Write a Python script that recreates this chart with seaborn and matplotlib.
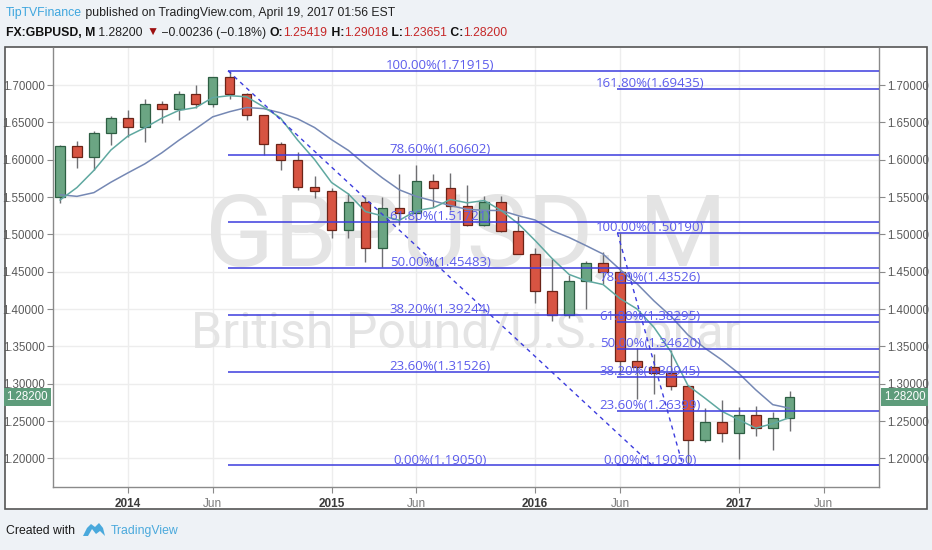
import numpy as np
import pandas as pd
import matplotlib.pyplot as plt
from matplotlib.patches import Rectangle, Polygon
from matplotlib.transforms import blended_transform_factory
import seaborn as sns

# monthly GBPUSD candles, Sep 2013 .. Apr 2017
months = pd.period_range("2013-09", "2017-04", freq="M")
opens = [1.5500, 1.6190, 1.6035, 1.6360, 1.6560, 1.6435, 1.6750, 1.6675, 1.6880, 1.6750,
         1.7105, 1.6880, 1.6595, 1.6210, 1.5995, 1.5640, 1.5575, 1.5055, 1.5435, 1.4820,
         1.5350, 1.5280, 1.5710, 1.5615, 1.5380, 1.5125, 1.5435, 1.5040, 1.4740, 1.4245,
         1.3920, 1.4370, 1.4615, 1.4490, 1.3305, 1.3225, 1.3140, 1.2975, 1.2240, 1.2480,
         1.2340, 1.2576, 1.2410, 1.25419]
highs = [1.6200, 1.6245, 1.6385, 1.6580, 1.6660, 1.6810, 1.6780, 1.6921, 1.7006, 1.7109,
         1.7192, 1.6892, 1.6600, 1.6240, 1.6098, 1.5786, 1.5620, 1.5552, 1.5497, 1.5498,
         1.5815, 1.5930, 1.5803, 1.5819, 1.5659, 1.5508, 1.5507, 1.5242, 1.4815, 1.4668,
         1.4459, 1.4639, 1.4770, 1.5019, 1.3480, 1.3400, 1.3445, 1.2985, 1.2675, 1.2775,
         1.2690, 1.2706, 1.2615, 1.29018]
lows = [1.5425, 1.5885, 1.5860, 1.6195, 1.6305, 1.6240, 1.6487, 1.6536, 1.6695, 1.6710,
        1.6810, 1.6527, 1.6060, 1.5863, 1.5590, 1.5490, 1.4950, 1.4952, 1.4633, 1.4565,
        1.5120, 1.5170, 1.5370, 1.5330, 1.5107, 1.5107, 1.5027, 1.4737, 1.4080, 1.3836,
        1.3885, 1.4006, 1.4331, 1.3118, 1.2795, 1.2866, 1.2915, 1.1905, 1.2215, 1.2215,
        1.1986, 1.2300, 1.2108, 1.23651]
closes = opens[1:] + [1.28200]

# moving averages as shown on the chart (5 and 10 periods)
ma_fast = [1.5459, 1.5627, 1.5857, 1.6129, 1.6316, 1.6428, 1.6556, 1.6660, 1.6698, 1.6832,
           1.6858, 1.6842, 1.6708, 1.6557, 1.6264, 1.6003, 1.5695, 1.5540, 1.5305, 1.5247,
           1.5188, 1.5319, 1.5355, 1.5467, 1.5422, 1.5453, 1.5319, 1.5144, 1.4917, 1.4676,
           1.4463, 1.4378, 1.4328, 1.4140, 1.4001, 1.3755, 1.3427, 1.2977, 1.2807, 1.2630,
           1.2517, 1.2404, 1.2465, 1.2547]
ma_slow = [1.5531, 1.5509, 1.5559, 1.5698, 1.5823, 1.5944, 1.6092, 1.6259, 1.6414, 1.6574,
           1.6643, 1.6699, 1.6684, 1.6628, 1.6548, 1.6431, 1.6269, 1.6124, 1.5931, 1.5756,
           1.5596, 1.5507, 1.5448, 1.5386, 1.5335, 1.5321, 1.5319, 1.5250, 1.5192, 1.5049,
           1.4958, 1.4849, 1.4736, 1.4529, 1.4339, 1.4109, 1.3903, 1.3653, 1.3476, 1.3318,
           1.3138, 1.2917, 1.2719, 1.2671]

# fibonacci retracements
fib1_labels = ["100.00%", "78.60%", "61.80%", "50.00%", "38.20%", "23.60%", "0.00%"]
fib1_levels = [1.71915, 1.60602, 1.51721, 1.45483, 1.39244, 1.31526, 1.19050]
fib2_labels = ["161.80%", "100.00%", "78.60%", "61.80%", "50.00%", "38.20%", "23.60%", "0.00%"]
fib2_levels = [1.69435, 1.50190, 1.43526, 1.38295, 1.34620, 1.30945, 1.26399, 1.19050]
fib1_span = [9.9, 34.9]
fib2_span = [32.85, 36.7]

price_ticks = [1.20, 1.25, 1.30, 1.35, 1.40, 1.45, 1.50, 1.55, 1.60, 1.65, 1.70]
last_price = 1.28200

UP, DOWN = "#6ba583", "#d75442"
UP_EDGE, DOWN_EDGE = "#2d5e43", "#6b2418"
FIB = "#3c3cde"
FIB_TXT = "#5c5cec"

sns.set_style("white")
plt.rcParams["font.family"] = ["Liberation Sans", "DejaVu Sans"]
NARROW = ["Liberation Sans", "DejaVu Sans"]

fig = plt.figure(figsize=(9.32, 5.5), dpi=100)
fig.patch.set_facecolor("#eef2f6")

# background layer in pixel coordinates
bg = fig.add_axes([0, 0, 1, 1], zorder=0)
bg.set_xlim(0, 932)
bg.set_ylim(550, 0)
bg.axis("off")
bg.add_patch(Rectangle((5, 47), 922, 462, facecolor="white", edgecolor="#555555", lw=1.2))

ax = fig.add_axes([53 / 932, 1 - 487 / 550, 826 / 932, 439 / 550], zorder=1)
ax.set_facecolor("white")

idx = np.arange(len(months))
o = np.array(opens)
c = np.array(closes)
up = c >= o
body_col = np.where(up, UP, DOWN)
edge_col = np.where(up, UP_EDGE, DOWN_EDGE)

# watermark
ax.text(0.5, 0.5034, "GBPUSD, M", transform=ax.transAxes, ha="center", va="baseline",
        fontsize=73, family="Roboto", color="#e4e4e4", zorder=1)
ax.text(0.5, 0.3189, "British Pound/U.S. Dollar", transform=ax.transAxes, ha="center",
        va="baseline", fontsize=36, family="Roboto", color="#e4e4e4", zorder=1)

# candles
ax.vlines(idx, lows, highs, color="#6f6f72", lw=1, zorder=2)
heights = np.where(np.abs(c - o) < 0.0015, np.sign(c - o + 1e-9) * 0.0015, c - o)
ax.bar(idx, heights, bottom=o, width=0.56, color=body_col, edgecolor=edge_col,
       linewidth=0.9, zorder=3)

# moving averages
ma_df = pd.DataFrame({"i": idx, "fast": ma_fast, "slow": ma_slow})
sns.lineplot(data=ma_df, x="i", y="slow", color="#7588b4", lw=1.1, ax=ax, zorder=4)
sns.lineplot(data=ma_df, x="i", y="fast", color="#5fa8a0", lw=1.1, ax=ax, zorder=4)

XMAX = 48.26
# fib lines and labels
ax.hlines(fib1_levels, fib1_span[0], XMAX, color=FIB, lw=1.1, zorder=5)
ax.hlines(fib2_levels, fib2_span[0], XMAX, color=FIB, lw=1.1, zorder=5)
ax.plot(fib1_span, [fib1_levels[0], fib1_levels[-1]], ls=(0, (3, 3)), color=FIB, lw=1, zorder=5)
ax.plot(fib2_span, [fib2_levels[1], fib2_levels[-1]], ls=(0, (3, 3)), color=FIB, lw=1, zorder=5)
for lab, lev in zip(fib1_labels, fib1_levels):
    ax.annotate(f"{lab}({lev:.5f})", xy=(sum(fib1_span) / 2, lev), xytext=(0, 1.3),
                textcoords="offset points", ha="center", va="baseline", fontsize=9.5,
                family="Open Sans", color=FIB_TXT, zorder=6)
for lab, lev in zip(fib2_labels, fib2_levels):
    ax.annotate(f"{lab}({lev:.5f})", xy=(sum(fib2_span) / 2, lev), xytext=(0, 1.3),
                textcoords="offset points", ha="center", va="baseline", fontsize=9.5,
                family="Open Sans", color=FIB_TXT, zorder=6)

ax.set_xlim(-0.41, XMAX)
ax.set_ylim(1.1616, 1.7496)
ax.set_xlabel("")
ax.set_ylabel("")

# axes styling
for side in ["left", "right", "bottom"]:
    ax.spines[side].set_color("#8a8a8a")
    ax.spines[side].set_linewidth(1)
ax.spines["top"].set_visible(False)

ax.set_yticks(price_ticks)
ax.set_yticklabels([f"{p:.5f}" for p in price_ticks])
ax.tick_params(axis="y", left=True, right=True, labelleft=True, labelright=True,
               length=4, width=0.8, color="#8a8a8a", labelcolor="#5a5a5a", labelsize=8.3, pad=2)

xt_pos, xt_lab = [], []
axis_months = pd.period_range("2013-09", "2017-09", freq="M")
for k, m in enumerate(axis_months):
    if m.month == 1:
        xt_pos.append(k)
        xt_lab.append(str(m.year))
    elif m.month == 6:
        xt_pos.append(k)
        xt_lab.append("Jun")
ax.set_xticks(xt_pos)
ax.set_xticklabels(xt_lab)
ax.tick_params(axis="x", bottom=True, length=4, width=0.8, color="#8a8a8a", pad=4)
for t in ax.get_xticklabels():
    t.set_family(NARROW)
    t.set_fontsize(8.5)
    if t.get_text() == "Jun":
        t.set_color("#7a7a7a")
    else:
        t.set_color("#3a3a3a")
        t.set_fontweight("bold")

ax.grid(True, color="#ededed", lw=1)
ax.set_axisbelow(True)

# last price tags
blend = blended_transform_factory(ax.transAxes, ax.transData)
tag = dict(boxstyle="square,pad=0.25", fc="#5e9c7b", ec="none")
ax.text(-0.006, last_price, f"{last_price:.5f}", transform=blend, ha="right", va="center",
        fontsize=8.3, color="white", bbox=tag, zorder=7, clip_on=False)
ax.text(1.006, last_price, f"{last_price:.5f}", transform=blend, ha="left", va="center",
        fontsize=8.3, color="white", bbox=tag, zorder=7, clip_on=False)


def chain(prev, s, **kw):
    return bg.annotate(s, xy=(1, 0), xycoords=prev, ha="left", va="bottom", **kw)


# header
hdr = dict(fontsize=8.8, family=NARROW)
t = bg.text(6, 19, "TipTVFinance", ha="left", va="bottom", color="#3ea6de", **hdr)
chain(t, " published on TradingView.com, April 19, 2017 01:56 EST", color="#222222", **hdr)

parts = [("FX:GBPUSD, M", "#111111", "bold"), (" 1.28200 ", "#222222", "normal"),
         ("\u25bc", "#9c0f0f", "normal"), (" \u22120.00236 (\u22120.18%) ", "#222222", "normal"),
         ("O:", "#111111", "bold"), ("1.25419", "#c62828", "normal"),
         (" H:", "#111111", "bold"), ("1.29018", "#c62828", "normal"),
         (" L:", "#111111", "bold"), ("1.23651", "#c62828", "normal"),
         (" C:", "#111111", "bold"), ("1.28200", "#c62828", "normal")]
prev = None
for s, col, w in parts:
    if prev is None:
        prev = bg.text(6, 39, s, ha="left", va="bottom", color=col, fontweight=w, **hdr)
    else:
        prev = chain(prev, s, color=col, fontweight=w, **hdr)

# footer
bg.text(6, 531, "Created with", ha="left", va="center", fontsize=8.8, family=NARROW, color="#1a1a1a")
bg.add_patch(Polygon([(83, 536), (87, 528), (91, 524), (95, 527), (99, 523), (103, 528),
                      (105, 536), (100, 531), (96, 534), (92, 529), (88, 536)],
                     closed=True, fc="#4aa9dc", ec="none"))
bg.text(111, 531, "TradingView", ha="left", va="center", fontsize=8.8, family=NARROW, color="#4aa9dc")

fig.savefig("out.png", dpi=100, facecolor=fig.get_facecolor())
